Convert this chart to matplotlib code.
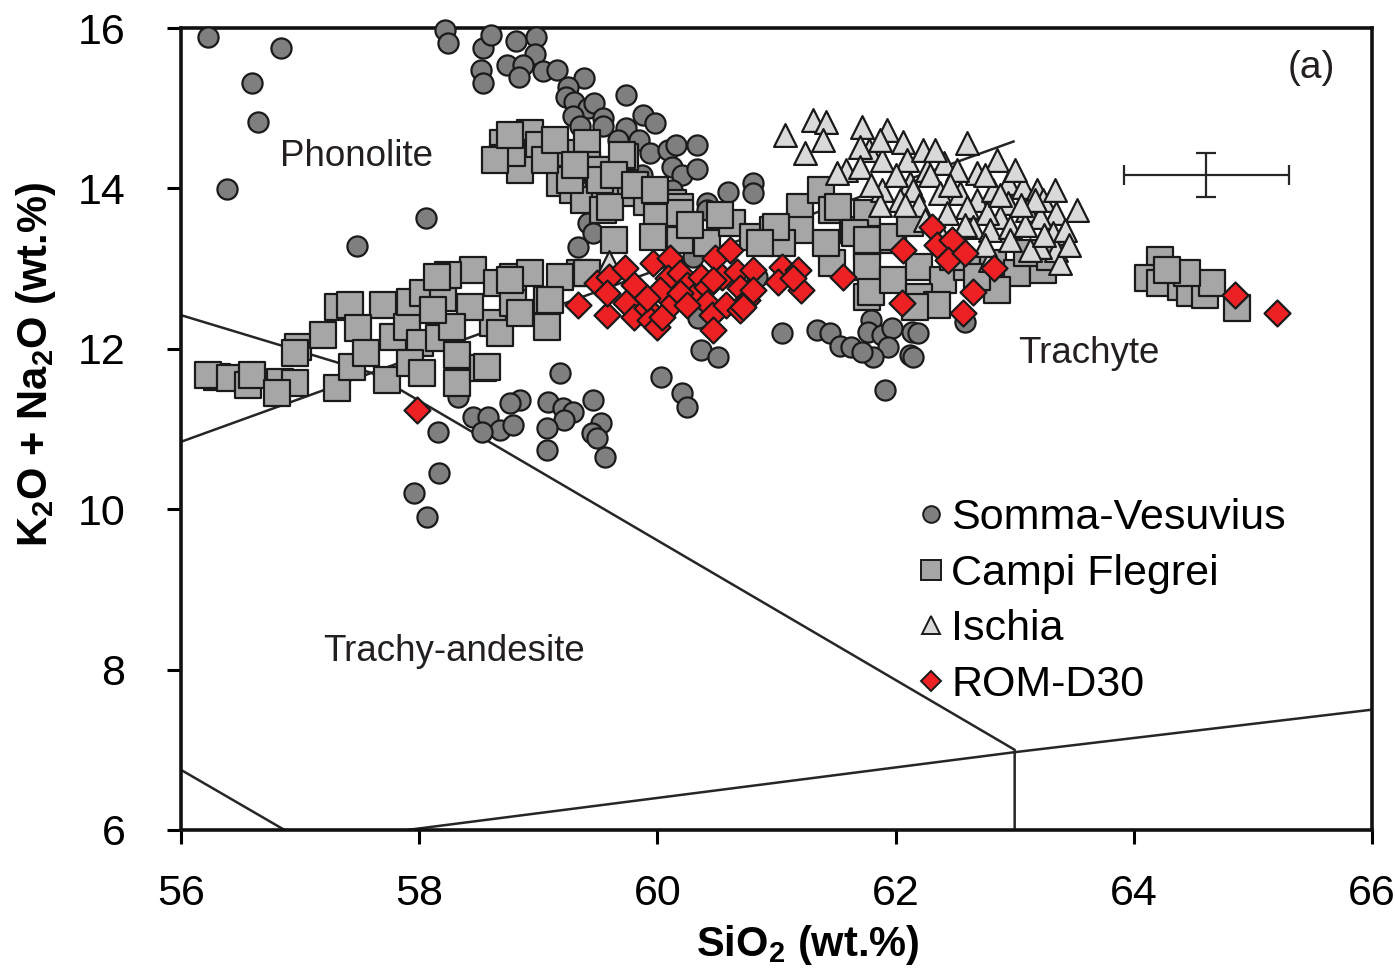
import matplotlib
matplotlib.use("Agg")
import matplotlib.pyplot as plt
from matplotlib.lines import Line2D
import numpy as np

plt.rcParams['font.family'] = ['Liberation Sans', 'DejaVu Sans']
plt.rcParams['mathtext.fontset'] = 'custom'
plt.rcParams['mathtext.rm'] = 'Liberation Sans'
plt.rcParams['mathtext.bf'] = 'Liberation Sans:bold'

# ---------------- data ----------------
sv_sio2 = [56.23, 56.84, 56.60, 56.65, 56.39, 57.48, 58.06, 58.22, 58.24, 58.54, 58.60, 58.81,
           58.98, 58.97, 58.74, 58.87, 58.84, 58.52, 58.54, 59.04, 59.16, 59.38, 59.25, 59.23,
           59.30, 59.42, 59.47, 59.29, 59.35, 59.54, 59.54, 59.74, 59.88, 59.98, 59.74, 59.67,
           59.85, 59.94, 60.09, 60.16, 60.33, 60.12, 60.21, 60.33, 59.87, 60.42, 60.42, 60.12,
           60.59, 60.80, 60.80, 59.42, 59.46, 59.33, 60.30, 60.84, 60.34, 61.05, 60.37, 60.51,
           59.18, 60.03, 60.21, 60.25, 61.34, 61.45, 61.53, 61.63, 61.79, 61.77, 61.89, 61.97,
           62.14, 62.19, 61.94, 61.81, 61.72, 62.12, 62.15, 61.91, 62.58, 58.85, 58.76, 58.45,
           58.58, 58.68, 58.53, 58.79, 59.08, 59.21, 59.29, 59.22, 59.07, 59.46, 59.53, 59.45,
           59.49, 59.07, 59.56, 58.16, 58.17, 57.96, 58.07, 58.33]
sv_alk = [15.89, 15.75, 15.31, 14.83, 13.99, 13.28, 13.63, 15.98, 15.81, 15.75, 15.91, 15.84,
          15.89, 15.68, 15.54, 15.54, 15.39, 15.48, 15.31, 15.46, 15.48, 15.38, 15.26, 15.14,
          15.08, 15.00, 15.06, 14.90, 14.78, 14.88, 14.78, 15.16, 14.92, 14.82, 14.75, 14.60,
          14.60, 14.44, 14.48, 14.54, 14.54, 14.27, 14.17, 14.24, 14.17, 13.82, 13.73, 13.98,
          13.96, 14.07, 13.94, 13.57, 13.44, 13.27, 13.14, 12.90, 12.38, 12.20, 11.99, 11.90,
          11.70, 11.65, 11.45, 11.27, 12.23, 12.20, 12.04, 12.02, 12.36, 12.21, 12.17, 12.26,
          12.21, 12.20, 12.02, 11.90, 11.96, 11.92, 11.90, 11.49, 12.33, 11.36, 11.32, 11.15,
          11.15, 10.99, 10.96, 11.05, 11.34, 11.26, 11.21, 11.11, 11.01, 11.36, 11.07, 10.95,
          10.89, 10.74, 10.65, 10.96, 10.45, 10.20, 9.90, 11.40]

cf_sio2 = [56.30, 56.23, 56.41, 56.56, 56.60, 56.83, 56.96, 56.81, 56.98, 56.96, 57.19, 57.32,
           57.42, 57.70, 57.31, 57.44, 57.49, 57.55, 57.73, 57.78, 57.90, 57.92, 58.03, 58.20,
           58.45, 58.24, 58.15, 58.01, 57.92, 58.02, 58.17, 58.32, 58.32, 58.54, 58.62, 58.43,
           58.28, 58.12, 58.65, 59.07, 59.07, 58.79, 58.79, 58.93, 59.35, 59.18, 58.68, 58.57,
           58.85, 58.76, 59.41,
           58.82, 58.93, 59.01, 59.21, 59.41, 59.41, 59.52, 59.73, 59.73, 58.70, 58.70, 58.85,
           59.18, 59.29, 59.38, 59.56, 59.91, 60.13, 60.19, 59.54, 58.78, 59.50, 59.70, 59.52,
           59.27, 59.60, 60.00, 60.19, 59.64, 59.96, 60.19, 60.42, 60.63, 60.80, 60.97, 61.20,
           61.20, 61.37, 61.47, 61.64, 61.76, 61.76, 61.47, 61.98, 61.42, 61.05, 61.00, 59.10,
           61.52, 61.76, 61.66, 61.76, 61.76, 61.79, 61.98, 62.20, 62.40, 62.60, 62.82, 63.02,
           63.24, 62.85, 62.20, 61.98, 62.12, 62.48, 62.68, 63.10, 63.30, 60.86, 62.35, 62.16,
           58.64, 58.76, 59.06, 59.14, 59.31, 59.64, 59.81, 59.98, 60.27, 60.53,
           64.22, 64.12, 64.22, 64.40, 64.47, 64.60, 64.66, 64.87, 64.45, 64.28]
cf_alk = [11.65, 11.67, 11.64, 11.55, 11.67, 11.59, 11.57, 11.45, 12.02, 11.95, 12.17, 12.52,
          12.55, 12.55, 11.51, 11.77, 12.26, 11.95, 11.61, 12.15, 12.27, 12.58, 12.70, 12.63,
          12.98, 12.92, 12.90, 12.07, 11.82, 11.70, 12.13, 11.92, 11.57, 11.76, 12.32, 12.52,
          12.27, 12.48, 12.82, 12.61, 12.27, 12.57, 12.90, 12.95, 12.95, 12.90, 12.20, 11.77,
          12.45, 12.86, 12.95,
          14.64, 14.69, 14.54, 14.44, 14.57, 14.29, 14.23, 14.39, 13.94, 14.57, 14.38, 14.23,
          14.07, 13.98, 13.86, 13.89, 13.83, 13.82, 13.77, 13.73, 14.44, 14.23, 14.42, 14.10,
          14.10, 13.77, 13.64, 13.69, 13.36, 13.39, 13.36, 13.32, 13.57, 13.39, 13.48, 13.77,
          13.48, 13.98, 13.73, 13.48, 13.27, 12.65, 13.07, 13.36, 13.32, 13.32, 13.52, 12.61,
          13.77, 13.69, 13.44, 13.36, 13.02, 12.71, 12.86, 13.02, 12.86, 13.02, 13.07, 12.95,
          12.98, 12.73, 12.65, 13.39, 13.57, 13.14, 12.90, 13.19, 13.14, 13.32, 12.55, 12.52,
          14.35, 14.67, 14.35, 14.60, 14.29, 14.17, 14.04, 13.98, 13.54, 13.67,
          13.11, 12.88, 12.82, 12.77, 12.70, 12.67, 12.82, 12.51, 12.95, 12.98]

is_sio2 = [61.07, 61.31, 61.42, 61.39, 61.24, 61.72, 61.93, 61.78, 61.70, 62.06, 62.10, 62.23,
           61.89, 61.58, 61.70, 62.60, 62.85, 62.41, 62.26, 62.29, 62.68, 62.52, 62.12, 61.89,
           62.15, 62.04, 62.20, 62.37, 62.54, 62.68, 62.82, 62.94, 63.07, 63.19, 63.24, 63.52,
           63.35, 62.94, 62.88, 63.10, 62.77, 62.43, 62.60, 62.65, 62.79, 62.96, 63.21, 63.32,
           62.96, 62.54, 63.35, 63.38, 63.21, 63.13, 62.79, 62.37, 61.51, 59.59,
           61.87, 62.00, 62.33, 62.46, 62.75, 63.00, 62.58, 62.75, 63.09, 63.25, 63.42, 63.46,
           63.17, 63.34, 62.25, 62.08, 61.87, 61.79, 62.88, 63.05]
is_alk = [14.67, 14.85, 14.83, 14.60, 14.44, 14.77, 14.73, 14.48, 14.52, 14.58, 14.35, 14.48,
          14.35, 14.23, 14.27, 14.57, 14.35, 14.32, 14.23, 14.17, 14.19, 14.23, 14.07, 13.98,
          13.98, 13.86, 13.79, 13.94, 13.94, 13.86, 13.98, 14.07, 14.02, 13.98, 13.86, 13.73,
          13.69, 13.82, 13.64, 13.73, 13.69, 13.69, 13.77, 13.52, 13.48, 13.52, 13.64, 13.44,
          13.36, 13.36, 13.23, 13.07, 13.27, 13.23, 13.11, 13.44, 14.19, 13.08,
          14.60, 14.17, 14.48, 14.04, 14.17, 14.23, 13.54, 13.29, 13.54, 13.42, 13.48, 13.29,
          13.86, 13.98, 13.61, 13.79, 13.79, 14.04, 13.92, 13.79]

rom_sio2 = [57.98, 59.33, 59.58, 59.49, 59.59, 59.58, 59.73, 59.80, 59.74, 59.80, 59.91, 59.94,
            60.00, 60.04, 59.96, 60.11, 60.09, 60.02, 60.19, 60.25, 60.13, 60.30, 60.37, 60.48,
            60.61, 60.54, 60.42, 60.42, 60.46, 60.47, 60.58, 60.67, 60.80, 60.69, 60.75, 60.80,
            60.69, 61.05, 61.18, 61.01, 61.21, 61.14, 61.56, 62.06, 62.05, 62.31, 62.35, 62.47,
            62.44, 62.58, 62.65, 62.57, 62.83, 64.85, 65.20, 59.91, 60.47, 60.19, 60.25, 60.72]
rom_alk = [11.24, 12.55, 12.42, 12.82, 12.90, 12.70, 13.01, 12.80, 12.57, 12.40, 12.51, 12.36,
           12.27, 12.40, 13.07, 13.13, 12.88, 12.73, 12.95, 12.80, 12.57, 12.65, 12.90, 13.13,
           13.23, 12.90, 12.77, 12.57, 12.42, 12.23, 12.55, 12.96, 12.98, 12.76, 12.61, 12.73,
           12.48, 13.02, 12.98, 12.83, 12.73, 12.88, 12.90, 13.23, 12.57, 13.52, 13.29, 13.36,
           13.11, 13.19, 12.71, 12.45, 13.01, 12.67, 12.45, 12.63, 12.86, 12.70, 12.55, 12.52]

# TAS field boundaries (SiO2, alkali)
bnd_upper_x = [56.0, 57.6, 63.0, 63.0]
bnd_upper_y = [12.42, 11.7, 7.0, 6.0]
bnd_low_x = [56.0, 57.6]
bnd_low_y = [10.84, 11.7]
bnd_ph_x = [57.6, 63.0]
bnd_ph_y = [11.7, 14.59]
bnd_bas_x = [56.0, 56.87]
bnd_bas_y = [6.75, 6.0]
bnd_bot_x = [57.9, 63.0, 66.0]
bnd_bot_y = [6.0, 6.97, 7.5]

err_x, err_y = 64.61, 14.17
err_dx, err_dy = 0.69, 0.275

field_names = ["Phonolite", "Trachyte", "Trachy-andesite"]
field_x = [57.47, 63.62, 58.29]
field_y = [14.40, 11.94, 8.22]

labels = ["Somma-Vesuvius", "Campi Flegrei", "Ischia", "ROM-D30"]

# ---------------- figure ----------------
fig = plt.figure(figsize=(13.95, 9.73), dpi=100)
ax = fig.add_axes([0.1297, 0.147, 0.8538, 0.8242])

lc = '#262626'
for xs, ys in [(bnd_upper_x, bnd_upper_y), (bnd_low_x, bnd_low_y), (bnd_ph_x, bnd_ph_y),
               (bnd_bas_x, bnd_bas_y), (bnd_bot_x, bnd_bot_y)]:
    ax.plot(xs, ys, color=lc, lw=1.8, zorder=1, solid_capstyle='butt')

ec = '#1a1a1a'
ax.scatter(sv_sio2, sv_alk, s=210, marker='o', facecolor='#7f7f7f', edgecolor=ec,
           linewidths=1.6, zorder=3, clip_on=False)
ax.scatter(cf_sio2, cf_alk, s=370, marker='s', facecolor='#a6a6a6', edgecolor=ec,
           linewidths=1.6, zorder=4)
ax.scatter(is_sio2, is_alk, s=270, marker='^', facecolor='#d9d9d9', edgecolor=ec,
           linewidths=1.6, zorder=5)
ax.scatter(rom_sio2, rom_alk, s=175, marker='D', facecolor='#ed2024', edgecolor=ec,
           linewidths=1.6, zorder=6)

ax.errorbar([err_x], [err_y], xerr=[err_dx], yerr=[err_dy], fmt='none', ecolor=lc,
            elinewidth=1.6, capsize=7, capthick=1.6, zorder=7)

for n, fx, fy in zip(field_names, field_x, field_y):
    ax.text(fx, fy, n, fontsize=26.5, color='#231f20', ha='center', va='center', zorder=8)
ax.text(65.49, 15.5, "(a)", fontsize=28, color='#231f20', ha='center', va='center')

ax.set_xlim(56, 66)
ax.set_ylim(6, 16)
ax.set_xticks([56, 58, 60, 62, 64, 66])
ax.set_yticks([6, 8, 10, 12, 14, 16])
ax.tick_params(axis='x', labelsize=31, width=2.2, length=10, direction='out', pad=22)
ax.tick_params(axis='y', labelsize=31, width=2.2, length=10, direction='out', pad=30)
for sp in ax.spines.values():
    sp.set_linewidth(2.6)
    sp.set_color('#111111')

ax.set_xlabel(r"SiO$_{\mathbf{2}}$ (wt.%)", fontsize=30, fontweight='bold', labelpad=6)
ax.set_ylabel(r"K$_{\mathbf{2}}$O + Na$_{\mathbf{2}}$O (wt.%)", fontsize=30,
              fontweight='bold', labelpad=14)
ax.xaxis.label.set_x(0.526)
ax.yaxis.label.set_y(0.58)

handles = [
    Line2D([], [], ls='none', marker='o', ms=12, mfc='#7f7f7f', mec=ec, mew=1.4),
    Line2D([], [], ls='none', marker='s', ms=15, mfc='#a6a6a6', mec=ec, mew=1.4),
    Line2D([], [], ls='none', marker='^', ms=13, mfc='#d9d9d9', mec=ec, mew=1.4),
    Line2D([], [], ls='none', marker='D', ms=10.5, mfc='#ed2024', mec=ec, mew=1.4),
]
ax.legend(handles, labels, loc='upper left', bbox_to_anchor=(0.601, 0.435), frameon=False,
          fontsize=31, handlelength=0.8, handletextpad=0.07, labelspacing=0.36,
          borderaxespad=0)

fig.savefig("out.png", dpi=100)
